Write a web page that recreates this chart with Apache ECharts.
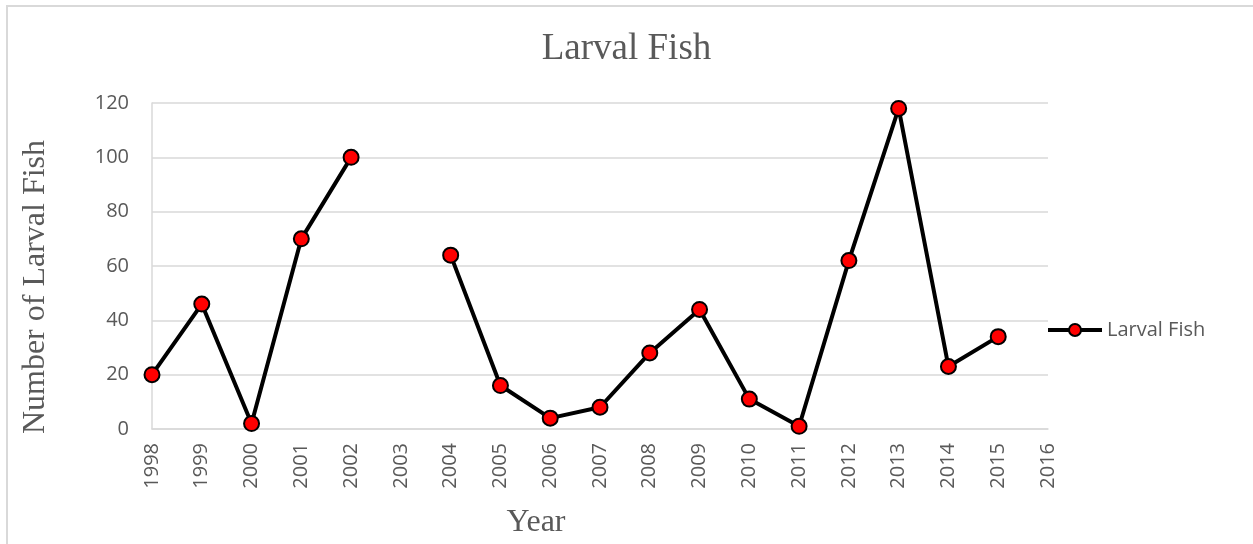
<!DOCTYPE html>
<html>
<head>
<meta charset="utf-8">
<script src="https://cdn.jsdelivr.net/npm/echarts@6/dist/echarts.min.js"></script>
<style>
  html, body { margin: 0; padding: 0; background: #fff; }
  #chart { width: 1253px; height: 544px; }
</style>
</head>
<body>
<div id="chart"></div>
<script>
// 年份 / 数值
var years = ['1998','1999','2000','2001','2002','2003','2004','2005','2006','2007',
             '2008','2009','2010','2011','2012','2013','2014','2015','2016'];
var larvalFish = [20, 46, 2, 70, 100, null, 64, 16, 4, 8,
                  28, 44, 11, 1, 62, 118, 23, 34, null];
var yTicks = [0, 20, 40, 60, 80, 100, 120];

var grayText = '#595959';
var serif = '"Liberation Serif", "Times New Roman", serif';
var sans = '"Open Sans", "Liberation Sans", sans-serif';

var chart = echarts.init(document.getElementById('chart'));

var option = {
    animation: false,
    backgroundColor: '#fff',
    title: {
        text: 'Larval Fish',
        left: 'center',
        top: 26,
        textStyle: { fontFamily: serif, fontSize: 37, fontWeight: 'normal', color: grayText }
    },
    legend: {
        data: ['Larval Fish'],
        left: 1041,
        top: 315,
        itemWidth: 54,
        itemHeight: 15,
        itemGap: 6,
        lineStyle: { width: 4, color: '#000' },
        textStyle: { fontFamily: sans, fontSize: 20, color: grayText }
    },
    grid: { left: 152, right: 205, top: 103, bottom: 112, containLabel: false },
    xAxis: {
        type: 'category',
        data: years,
        boundaryGap: false,
        name: 'Year',
        nameLocation: 'middle',
        nameGap: 78,
        nameTextStyle: { fontFamily: serif, fontSize: 32, color: grayText, padding: [0, 128, 0, 0] },
        axisLine: { lineStyle: { color: '#d9d9d9', width: 1.5 } },
        axisTick: { show: false },
        axisLabel: { rotate: 90, margin: 14, fontFamily: sans, fontSize: 20, color: grayText, interval: 0 }
    },
    yAxis: {
        type: 'value',
        min: yTicks[0],
        max: yTicks[yTicks.length - 1],
        interval: 20,
        name: 'Number of Larval Fish',
        nameLocation: 'middle',
        nameGap: 100,
        nameTextStyle: { fontFamily: serif, fontSize: 32, color: grayText, padding: [0, 42, 0, 0] },
        axisLine: { show: true, lineStyle: { color: '#d9d9d9', width: 1.5 } },
        axisTick: { show: false },
        axisLabel: { margin: 23, fontFamily: sans, fontSize: 20, color: grayText },
        splitLine: { lineStyle: { color: '#d9d9d9', width: 1.5 } }
    },
    series: [{
        name: 'Larval Fish',
        type: 'line',
        data: larvalFish,
        connectNulls: false,
        symbol: 'circle',
        symbolSize: 15,
        lineStyle: { color: '#000', width: 4 },
        itemStyle: { color: '#ff0000', borderColor: '#000', borderWidth: 2 }
    }],
    graphic: [{
        type: 'rect',
        shape: { x: 7, y: 6, width: 1300, height: 600 },
        style: { fill: 'none', stroke: '#d9d9d9', lineWidth: 2 },
        silent: true
    }]
};

chart.setOption(option);
</script>
</body>
</html>
